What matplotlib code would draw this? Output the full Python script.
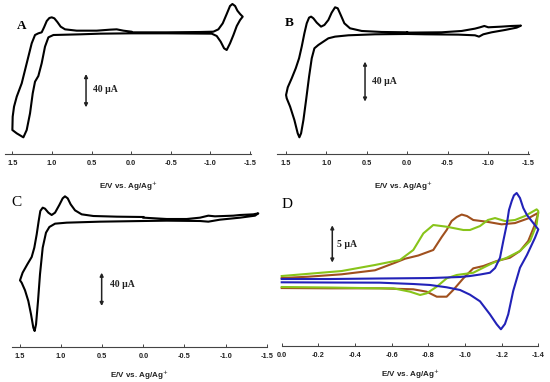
import matplotlib
matplotlib.use("Agg")
import matplotlib.pyplot as plt

plt.rcParams['font.family'] = ['Liberation Sans', 'DejaVu Sans']

# ---- panel A: potential (V) and current (uA), in scan order
a_E = [0.0, -0.449, -0.87, -1.038, -1.101, -1.156, -1.206, -1.248, -1.278, -1.312, -1.341, -1.375, -1.408,
       -1.375, -1.333, -1.291, -1.248, -1.206, -1.173, -1.13, -1.08, -1.017, -0.449, 0.0, 0.393, 0.646, 0.982,
       1.045, 1.088, 1.13, 1.172, 1.214, 1.243, 1.277, 1.319, 1.361, 1.445, 1.5, 1.496, 1.479, 1.445, 1.382,
       1.319, 1.256, 1.214, 1.172, 1.13, 1.1, 1.066, 1.033, 1.003, 0.97, 0.932, 0.89, 0.835, 0.688, 0.435,
       0.267, 0.183, 0.098, 0.0]
a_I = [0.8, 0.8, 1.2, 1.6, 4.4, 11.6, 22.8, 32.4, 34.8, 32.4, 26.8, 22.8, 19.6,
       15.6, 8.4, -2.4, -12.4, -20.4, -18.4, -10.4, -3.6, -0.8, -0.4, -0.4, -0.8, -1.6, -2.4,
       -5.2, -16.4, -36.4, -51.6, -58.4, -72.4, -96.4, -116.4, -125.2, -120.4, -116.4, -100.4, -88.4, -76.4, -60.4,
       -36.4, -12.4, -2.4, -0.4, 0.8, 6.8, 14.4, 18.0, 18.8, 17.6, 13.2, 7.6, 4.4, 2.8, 2.8,
       4.0, 4.4, 2.8, 1.6]

# ---- panel B
b_E = [0.0, -0.427, -0.675, -0.84, -0.902, -0.956, -1.005, -1.17, -1.294, -1.41,
       -1.356, -1.212, -1.046, -0.943, -0.89, -0.84, -0.634, -0.221, 0.0, 0.398, 0.728, 0.893, 0.976,
       1.038, 1.1, 1.149, 1.182, 1.215, 1.252, 1.285, 1.314, 1.335, 1.356, 1.397, 1.45, 1.492, 1.5,
       1.479, 1.43, 1.38, 1.339, 1.306, 1.273, 1.244, 1.215, 1.19, 1.162, 1.12, 1.067, 1.025, 0.976,
       0.935, 0.893, 0.86, 0.823, 0.778, 0.708, 0.563, 0.316, 0.0]
b_I = [0.67, 1.0, 2.33, 4.67, 6.0, 7.33, 6.0, 6.67, 7.33, 7.67,
       5.67, 3.33, 1.0, -1.0, -3.33, -2.0, -1.33, -1.0, -0.67, -1.0, -2.0, -3.33, -5.0,
       -8.33, -11.67, -15.0, -25.0, -43.3, -66.7, -86.7, -100.0, -104.0, -100.0, -86.7, -73.3, -65.0, -61.7,
       -54.0, -45.0, -35.0, -25.0, -13.3, 0.0, 10.0, 15.67, 16.67, 15.0, 10.67, 6.67, 8.33, 13.33,
       20.67, 26.0, 25.0, 18.33, 10.0, 5.0, 2.33, 1.33, 1.0]

# ---- panel C
c_E = [0.0, -0.284, -0.527, -0.689, -0.79, -0.871, -1.094, -1.175, -1.337, -1.398,
       -1.358, -1.175, -0.932, -0.79, -0.689, -0.284, 0.0, 0.527, 0.933, 1.074, 1.143, 1.184, 1.224,
       1.257, 1.281, 1.305, 1.322, 1.338, 1.366, 1.399, 1.439, 1.48, 1.5, 1.468, 1.411, 1.358, 1.326,
       1.297, 1.273, 1.253, 1.224, 1.196, 1.155, 1.115, 1.074, 1.022, 0.981, 0.953, 0.92, 0.884, 0.831,
       0.75, 0.608, 0.324, 0.0]
c_I = [3.2, 1.6, 1.6, 3.2, 5.6, 4.8, 5.6, 6.4, 7.2, 8.4,
       5.6, 3.2, 0.8, -1.6, -0.8, -0.4, -0.8, -1.6, -2.8, -4.0, -8.0, -14.8, -32.8,
       -64.8, -96.8, -124.8, -132.8, -128.8, -112.8, -96.8, -84.0, -74.8, -72.0, -62.8, -52.8, -44.0, -32.8,
       -16.8, -0.8, 11.2, 15.2, 14.0, 9.2, 6.4, 9.2, 18.4, 26.4, 28.8, 26.4, 19.2, 12.0,
       7.2, 5.2, 4.4, 4.0]

# ---- panel D (three complexes)
d_blue_E = [0.0, -0.264, -0.537, -0.809, -0.973, -1.027, -1.082, -1.136, -1.164, -1.191, -1.209, -1.228,
            -1.24, -1.255, -1.267, -1.282, -1.3, -1.318, -1.338, -1.364, -1.4,
            -1.382, -1.338, -1.3, -1.263, -1.236, -1.218, -1.196, -1.173, -1.136, -1.082, -1.027, -0.973,
            -0.9, -0.809, -0.719, -0.536, -0.264, 0.0]
d_blue_I = [0.0, 0.0, 0.07, 0.13, 0.27, 0.40, 0.60, 0.84, 1.47, 2.85, 5.09, 7.33,
            9.25, 10.45, 11.21, 11.53, 10.86, 9.52, 8.58, 7.77, 6.65,
            5.53, 3.22, 1.51, -1.61, -4.73, -6.03, -6.74, -6.07, -4.73, -2.99, -2.10, -1.47,
            -1.11, -0.80, -0.67, -0.49, -0.47, -0.44]

d_brown_E = [0.0, -0.145, -0.327, -0.509, -0.618, -0.673, -0.745, -0.827, -0.873, -0.9, -0.927, -0.955,
             -0.982, -1.011, -1.045, -1.118, -1.2, -1.273, -1.345, -1.4,
             -1.382, -1.345, -1.3, -1.245, -1.173, -1.1, -1.045, -0.991, -0.936, -0.9, -0.846, -0.791,
             -0.718, -0.536, -0.264, 0.0]
d_brown_I = [0.13, 0.31, 0.63, 1.17, 2.18, 2.72, 3.15, 3.89, 5.63, 6.57, 7.77, 8.31,
             8.64, 8.44, 7.91, 7.68, 7.33, 7.50, 8.13, 8.88,
             7.33, 5.09, 3.75, 2.85, 2.41, 1.74, 1.43, 0.09, -1.47, -2.37, -2.37, -1.70,
             -1.38, -1.25, -1.25, -1.21]

d_green_E = [0.0, -0.327, -0.509, -0.645, -0.718, -0.773, -0.827, -0.9, -0.991, -1.027, -1.082, -1.125,
             -1.164, -1.218, -1.273, -1.327, -1.391, -1.4,
             -1.391, -1.355, -1.3, -1.228, -1.154, -1.082, -1.045, -0.955, -0.9, -0.846, -0.791, -0.755,
             -0.7, -0.609, -0.536, -0.264, 0.0]
d_green_I = [0.40, 1.07, 1.88, 2.55, 3.89, 6.12, 7.24, 7.01, 6.57, 6.57, 7.10, 7.91,
             8.17, 7.77, 7.91, 8.44, 9.34, 9.11,
             7.33, 5.09, 3.75, 2.85, 2.18, 1.30, 0.84, 0.54, 0.09, -1.03, -1.92, -2.14,
             -1.70, -1.25, -1.25, -1.14, -1.07]

wide_ticks = [1.5, 1.0, 0.5, 0.0, -0.5, -1.0, -1.5]
wide_labels = ['1.5', '1.0', '0.5', '0.0', '-0.5', '-1.0', '-1.5']
d_ticks = [0.0, -0.2, -0.4, -0.6, -0.8, -1.0, -1.2, -1.4]
d_labels = ['0.0', '-0.2', '-0.4', '-0.6', '-0.8', '-1.0', '-1.2', '-1.4']

W, H = 550, 382
fig = plt.figure(figsize=(5.5, 3.82), dpi=100)


def panel(x0, x1, ytop, ybot):
    # rectangle given in pixels of the figure
    return fig.add_axes([x0 / W, 1 - ybot / H, (x1 - x0) / W, (ybot - ytop) / H])


def style(ax, ticks, labels, lpad):
    for s in ['left', 'right', 'top']:
        ax.spines[s].set_visible(False)
    ax.spines['bottom'].set_color('#444444')
    ax.spines['bottom'].set_linewidth(0.8)
    ax.set_yticks([])
    ax.set_xticks(ticks)
    ax.set_xticklabels(labels, fontsize=5.3, fontweight='bold', color='#222222')
    ax.tick_params(axis='x', direction='in', length=2.5, width=0.7, pad=4, color='#444444')
    ax.set_xlabel('E/V vs. Ag/Ag$^{+}$', fontsize=5.8, fontweight='bold', color='#222222', labelpad=lpad)
    ax.patch.set_alpha(0)


def scale_bar(ax, x, y0, y1, text, tx, ty):
    ax.annotate('', xy=(x, y0), xytext=(x, y1),
                arrowprops=dict(arrowstyle='<|-|>', color='#222222', lw=1.1,
                                mutation_scale=5, shrinkA=0, shrinkB=0))
    ax.text(tx, ty, text, fontsize=7, fontweight='bold', family='Liberation Serif',
            va='center', ha='left', color='#222222')


# A
axA = panel(5, 250.7, 0, 154)
axA.plot(a_E, a_I, color='black', lw=1.5, clip_on=False)
axA.set_xlim(1.593, -1.509)
axA.set_ylim(-145.2, 39.6)
style(axA, wide_ticks, wide_labels, 9)
axA.text(1.445, 8.8, 'A', fontsize=9.5, fontweight='bold', family='Liberation Serif', va='center')
scale_bar(axA, 0.57, -49.2, -89.2, '40 μA', 0.477, -68.4)

# B
axB = panel(276.7, 529, 0, 154)
axB.plot(b_E, b_I, color='black', lw=1.5, clip_on=False)
axB.set_xlim(1.616, -1.509)
axB.set_ylim(-120.7, 33.3)
style(axB, wide_ticks, wide_labels, 9)
axB.text(1.512, 10, 'B', fontsize=9.5, fontweight='bold', family='Liberation Serif', va='center')
scale_bar(axB, 0.522, -28.3, -68.3, '40 μA', 0.439, -48.3)

# C
axC = panel(11.7, 266.7, 191, 347)
axC.plot(c_E, c_I, color='black', lw=1.5, clip_on=False)
axC.set_xlim(1.601, -1.5)
axC.set_ylim(-152, 35.2)
style(axC, wide_ticks, wide_labels, 6)
axC.text(1.6, 21.2, 'C', fontsize=11, family='Liberation Serif', va='center')
scale_bar(axC, 0.507, -62.8, -102.8, '40 μA', 0.405, -76.8)

# D
axD = panel(281.7, 538.3, 188, 346)
axD.plot(d_brown_E, d_brown_I, color='#a0501e', lw=1.5, clip_on=False)
axD.plot(d_green_E, d_green_I, color='#88c41a', lw=1.5, clip_on=False)
axD.plot(d_blue_E, d_blue_I, color='#2222b8', lw=1.5, clip_on=False)
axD.set_xlim(0, -1.4)
axD.set_ylim(-8.98, 12.2)
style(axD, d_ticks, d_labels, 6)
axD.text(0.0, 10, 'D', fontsize=11, family='Liberation Serif', va='center')
scale_bar(axD, -0.276, 7.2, 2.2, '5 μA', -0.3, 4.65)

fig.savefig('out.png', dpi=100)
